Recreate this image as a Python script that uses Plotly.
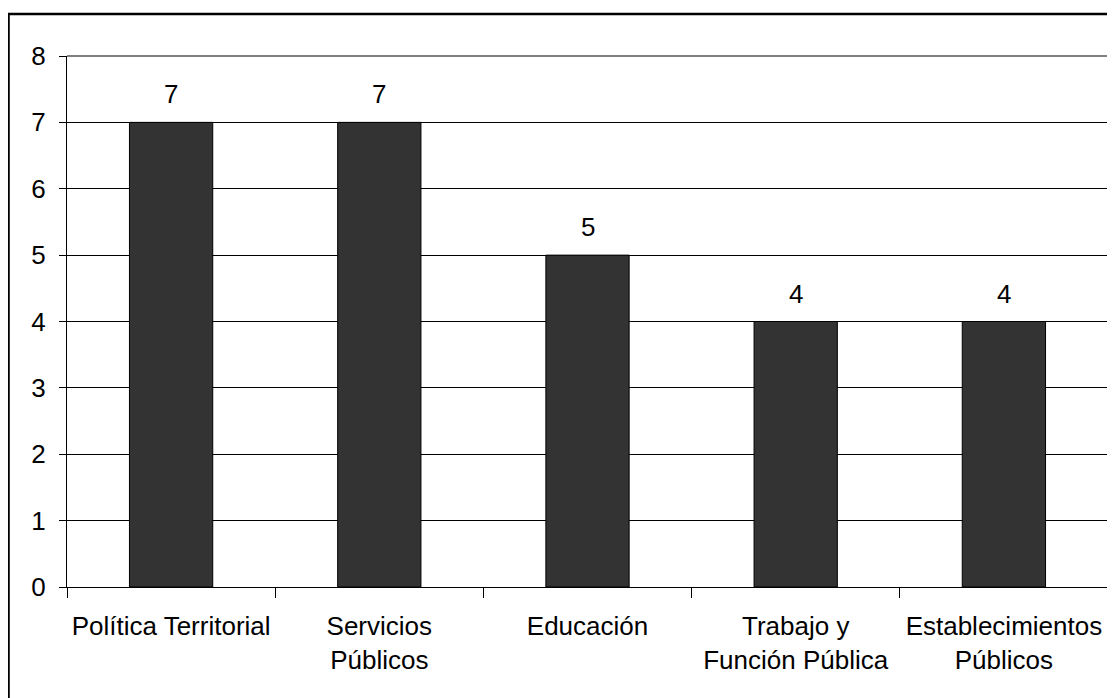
import plotly.graph_objects as go

categories = ["Política Territorial", "Servicios<br>Públicos", "Educación",
              "Trabajo y<br>Función Pública", "Establecimientos<br>Públicos"]
values = [7, 7, 5, 4, 4]
y_ticks = [0, 1, 2, 3, 4, 5, 6, 7, 8]

# page body has an 8px margin; compensate
OFF = 8
W, H = 1115 - OFF, 698 - OFF
L, T = 67 - OFF, 56 - OFF
R = W - (1108 - OFF)
B = H - (587 - OFF)
pw, ph = W - L - R, H - T - B

font = dict(family="Arial, Liberation Sans, sans-serif", size=26, color="black")

fig = go.Figure(go.Bar(
    x=categories, y=values, width=0.4,
    marker=dict(color="#333333", line=dict(color="black", width=1)),
))

for c, v in zip(categories, values):
    fig.add_annotation(x=c, y=v, text=str(v), showarrow=False, yanchor="bottom",
                       yshift=11, font=font)

fig.update_layout(
    width=W, height=H, margin=dict(l=L, r=R, t=T, b=B),
    paper_bgcolor="white", plot_bgcolor="white",
    font=font, showlegend=False,
    xaxis=dict(type="category", tickson="boundaries", ticks="outside", ticklen=10,
               tickcolor="black", tickwidth=1, showline=True, linecolor="black",
               linewidth=1, showgrid=False, tickfont=font, ticklabelstandoff=16),
    yaxis=dict(range=[0, 8], tickvals=y_ticks, ticks="outside", ticklen=7,
               tickcolor="black", showline=True, linecolor="black", linewidth=1,
               showgrid=True, gridcolor="black", gridwidth=1, zeroline=False,
               tickfont=font, ticklabelstandoff=8),
    shapes=[
        dict(type="line", xref="paper", yref="paper", x0=0, x1=1, y0=1, y1=1,
             line=dict(color="#808080", width=2), layer="above"),
        dict(type="line", xref="paper", yref="paper", x0=1, x1=1, y0=0, y1=1,
             line=dict(color="#808080", width=2), layer="above"),
        dict(type="rect", xref="paper", yref="paper",
             x0=(8 - OFF - L) / pw + 0.0005, x1=1.2, y0=-0.5,
             y1=1 + (T - (14 - OFF)) / ph,
             line=dict(color="black", width=2.5), fillcolor="rgba(0,0,0,0)",
             layer="below"),
    ],
)

fig.write_html("out.html")
